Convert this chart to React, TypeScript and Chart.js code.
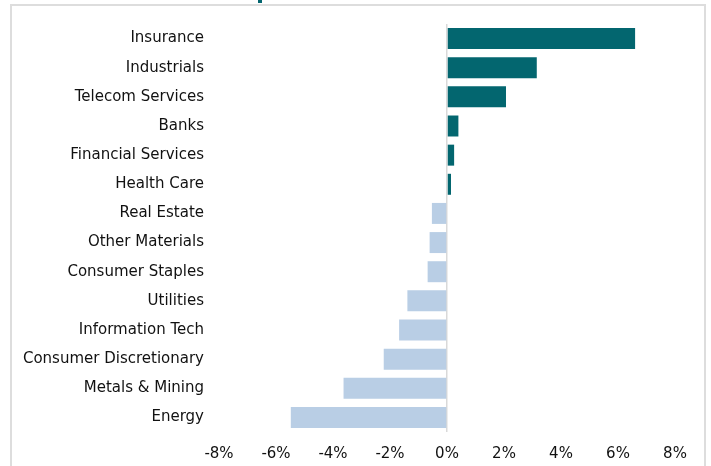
import React, { useEffect, useRef } from "react";
import { Chart, registerables } from "chart.js";

Chart.register(...registerables);

const categories = [
  "Insurance",
  "Industrials",
  "Telecom Services",
  "Banks",
  "Financial Services",
  "Health Care",
  "Real Estate",
  "Other Materials",
  "Consumer Staples",
  "Utilities",
  "Information Tech",
  "Consumer Discretionary",
  "Metals & Mining",
  "Energy",
];

const values = [6.6, 3.15, 2.07, 0.4, 0.25, 0.14, -0.53, -0.61, -0.68, -1.39, -1.68, -2.22, -3.63, -5.48];

const xTicks = [-8, -6, -4, -2, 0, 2, 4, 6, 8];

const POS_COLOR = "#03666F";
const NEG_COLOR = "#B9CEE5";

export default function App() {
  const ref = useRef<HTMLCanvasElement | null>(null);

  useEffect(() => {
    if (!ref.current) return;
    const chart = new Chart(ref.current, {
      type: "bar",
      data: {
        labels: categories,
        datasets: [
          {
            data: values,
            backgroundColor: values.map((v) => (v >= 0 ? POS_COLOR : NEG_COLOR)),
            borderWidth: 0,
            barPercentage: 0.72,
            categoryPercentage: 1,
          },
        ],
      },
      options: {
        indexAxis: "y",
        animation: false,
        responsive: false,
        maintainAspectRatio: false,
        layout: { padding: { top: 21, right: 36, bottom: 0, left: 0 } },
        plugins: { legend: { display: false }, tooltip: { enabled: false }, title: { display: false } },
        scales: {
          x: {
            min: -8,
            max: 8,
            afterBuildTicks: (scale: any) => {
              scale.ticks = xTicks.map((v) => ({ value: v }));
            },
            afterFit: (scale: any) => {
              scale.height = 34;
            },
            border: { display: false },
            grid: {
              drawTicks: false,
              color: (ctx: any) => (ctx.tick && ctx.tick.value === 0 ? "#D9D9D9" : "rgba(0,0,0,0)"),
              lineWidth: 1.5,
            },
            ticks: {
              padding: 13,
              color: "#111",
              font: { family: "DejaVu Sans", size: 15 },
              callback: (v: any) => `${v}%`,
              maxRotation: 0,
            },
          },
          y: {
            afterFit: (scale: any) => {
              scale.width = 219;
            },
            border: { display: false },
            grid: { display: false, drawTicks: false },
            ticks: {
              padding: 15,
              color: "#111",
              font: { family: "DejaVu Sans", size: 15 },
            },
          },
        },
      },
    });
    return () => chart.destroy();
  }, []);

  return (
    <div style={{ position: "absolute", left: 0, top: 0, width: 711, height: 466, overflow: "hidden", background: "#fff" }}>
      <div
        style={{
          position: "absolute",
          left: 10,
          top: 4,
          width: 696,
          height: 520,
          boxSizing: "border-box",
          border: "2px solid #DDDDDD",
        }}
      />
      <div style={{ position: "absolute", left: 258, top: 0, width: 4, height: 3, background: POS_COLOR }} />
      <canvas ref={ref} width={711} height={466} style={{ position: "absolute", left: 0, top: 0 }} />
    </div>
  );
}
